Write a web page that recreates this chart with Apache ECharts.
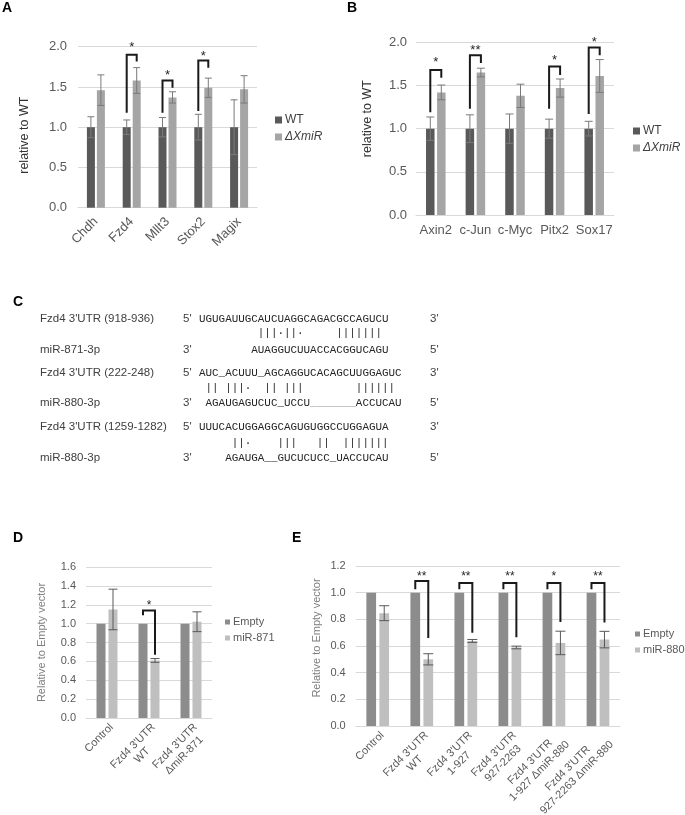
<!DOCTYPE html>
<html><head><meta charset="utf-8">
<script src="https://cdn.jsdelivr.net/npm/echarts@6/dist/echarts.min.js"></script>
<style>html,body{margin:0;padding:0;background:#fff}#c{width:685px;height:815px}</style>
</head><body><div id="c"></div>
<script>
// ---------- Panel A ----------
const catsA = ['Chdh', 'Fzd4', 'Mllt3', 'Stox2', 'Magix'];
const wtA = [1, 1, 1, 1, 1];
const wtErrA = [0.13, 0.09, 0.12, 0.16, 0.34];
const xmA = [1.46, 1.58, 1.37, 1.49, 1.47];
const xmErrA = [0.19, 0.16, 0.07, 0.12, 0.17];
// significance: [category index, left foot, top, right foot, star level]
const sigA = [[1, 1.18, 1.90, 1.815, 2.03], [2, 1.18, 1.58, 1.49, 1.68], [3, 1.20, 1.83, 1.74, 1.92]];
const starsA = ['*', '*', '*'];

// ---------- Panel B ----------
const catsB = ['Axin2', 'c-Jun', 'c-Myc', 'Pitx2', 'Sox17'];
const wtB = [1, 1, 1, 1, 1];
const wtErrB = [0.135, 0.16, 0.17, 0.11, 0.085];
const xmB = [1.42, 1.65, 1.38, 1.47, 1.61];
const xmErrB = [0.085, 0.05, 0.135, 0.105, 0.19];
const sigB = [[0, 1.19, 1.68, 1.59, 1.80], [1, 1.23, 1.85, 1.76, 1.94], [3, 1.23, 1.72, 1.62, 1.83], [4, 1.17, 1.94, 1.85, 2.04]];
const starsB = ['*', '**', '*', '*'];

// ---------- Panel D ----------
const catsD = ['Control', "Fzd4 3'UTR\nWT", "Fzd4 3'UTR\nΔmiR-871"];
const emptyD = [1, 1, 1];
const mirD = [1.15, 0.61, 1.02];
const mirErrD = [0.215, 0.02, 0.105];
const sigD = [[1, 1.09, 1.14, 0.67, 1.22]];
const starsD = ['*'];

// ---------- Panel E ----------
const catsE = ['Control', "Fzd4 3'UTR\nWT", "Fzd4 3'UTR\n1-927", "Fzd4 3'UTR\n927-2263", "Fzd4 3'UTR\n1-927 ΔmiR-880", "Fzd4 3'UTR\n927-2263 ΔmiR-880"];
const emptyE = [1, 1, 1, 1, 1, 1];
const mirE = [0.846, 0.50, 0.638, 0.589, 0.623, 0.648];
const mirErrE = [0.056, 0.042, 0.011, 0.01, 0.088, 0.062];
const sigE = [[1, 1.025, 1.087, 0.66, 1.145], [2, 1.025, 1.072, 0.70, 1.145], [3, 1.025, 1.072, 0.665, 1.145], [4, 1.025, 1.072, 0.78, 1.145], [5, 1.025, 1.072, 0.776, 1.145]];
const starsE = ['**', '**', '**', '*', '**'];

// axis ranges / tick steps
const yMaxA = 2, yStepA = 0.5;
const yMaxB = 2, yStepB = 0.5;
const yMaxD = 1.6, yStepD = 0.2;
const yMaxE = 1.2, yStepE = 0.2;

// ---------- Panel C (sequence alignments) ----------
const seqLabels = ["Fzd4 3'UTR (918-936)", 'miR-871-3p', "Fzd4 3'UTR (222-248)", 'miR-880-3p', "Fzd4 3'UTR (1259-1282)", 'miR-880-3p'];
const seqEndsL = ["5'", "3'", "5'", "3'", "5'", "3'"];
const seqEndsR = ["3'", "5'", "3'", "5'", "3'", "5'"];
const seqs = [
  'UGUGAUUGCAUCUAGGCAGACGCCAGUCU',
  '        AUAGGUCUUACCACGGUCAGU',
  'AUC_ACUUU_AGCAGGUCACAGCUUGGAGUC',
  ' AGAUGAGUCUC_UCCU       ACCUCAU',
  'UUUCACUGGAGGCAGUGUGGCCUGGAGUA',
  '    AGAUGA__GUCUCUCC_UACCUCAU'
];
const pairMarks = [
  '         |||·||·     |||||||',
  ' || |||·  || |||        ||||||',
  '     ||·    |||   ||  |||||||'
];
const gapMark = '                 _______';

const FONT = '"Liberation Sans", Arial, sans-serif';
const MONO = '"Liberation Mono", "DejaVu Sans Mono", monospace';

function yAxisOf(gi, max, step, name, gap, pad, fs, nfs, nameColor, margin) {
  return {
    type: 'value', gridIndex: gi, min: 0, max: max, interval: step,
    axisLabel: { formatter: v => v.toFixed(1), color: '#595959', fontSize: fs, fontFamily: FONT, margin: margin },
    splitLine: { lineStyle: { color: '#d9d9d9', width: 1 } },
    axisLine: { show: false }, axisTick: { show: false },
    name: name, nameLocation: 'middle', nameGap: gap, nameRotate: 90,
    nameTextStyle: { color: nameColor, fontSize: nfs, fontFamily: FONT, padding: pad }
  };
}
function xAxisOf(gi, cats, rotate, fs, margin, multi) {
  const lab = { interval: 0, rotate: rotate, color: '#595959', fontSize: fs, fontFamily: FONT, margin: margin };
  if (multi) {
    lab.verticalAlign = 'top';
    lab.formatter = v => v.split('\n').map(s => '{c|' + s + '}').join('\n');
    lab.rich = { c: { align: 'center', fontSize: fs, fontFamily: FONT, color: '#595959', lineHeight: 13 } };
  }
  return {
    type: 'category', gridIndex: gi, data: cats,
    axisLine: { lineStyle: { color: '#d9d9d9', width: 1 } }, axisTick: { show: false },
    axisLabel: lab
  };
}
function barOf(gi, name, data, w, gap, color) {
  return { type: 'bar', name: name, xAxisIndex: gi, yAxisIndex: gi, data: data, barWidth: w, barGap: gap, itemStyle: { color: color }, z: 2 };
}
function errOf(gi, vals, errs, off, cap, color) {
  return {
    type: 'custom', name: 'err' + gi + off, xAxisIndex: gi, yAxisIndex: gi, silent: true, z: 5,
    data: vals.map((v, i) => [i, v, errs[i]]),
    renderItem: function (p, api) {
      const i = api.value(0), v = api.value(1), e = api.value(2);
      const hi = api.coord([i, v + e]), lo = api.coord([i, v - e]);
      const x = hi[0] + off;
      const st = { stroke: color, lineWidth: 1 };
      return { type: 'group', children: [
        { type: 'line', shape: { x1: x, y1: hi[1], x2: x, y2: lo[1] }, style: st },
        { type: 'line', shape: { x1: x - cap / 2, y1: hi[1], x2: x + cap / 2, y2: hi[1] }, style: st },
        { type: 'line', shape: { x1: x - cap / 2, y1: lo[1], x2: x + cap / 2, y2: lo[1] }, style: st }
      ] };
    }
  };
}
function sigOf(gi, sig, stars, off, fs) {
  return {
    type: 'custom', name: 'sig' + gi, xAxisIndex: gi, yAxisIndex: gi, silent: true, z: 6,
    data: sig,
    renderItem: function (p, api) {
      const c = api.value(0);
      const pL = api.coord([c, api.value(1)]), pT = api.coord([c, api.value(2)]);
      const pR = api.coord([c, api.value(3)]), pS = api.coord([c, api.value(4)]);
      const xl = pL[0] - off, xr = pL[0] + off;
      return { type: 'group', children: [
        { type: 'polyline', shape: { points: [[xl, pL[1]], [xl, pT[1]], [xr, pT[1]], [xr, pR[1]]] },
          style: { stroke: '#1a1a1a', lineWidth: 2, fill: 'none' } },
        { type: 'text', style: { text: stars[p.dataIndex], x: (xl + xr) / 2, y: pS[1] + fs * 0.25,
          align: 'center', verticalAlign: 'middle', fontSize: fs, fontFamily: FONT, fill: '#262626' } }
      ] };
    }
  };
}
function legendOf(names, left, top, iw, fs, lh, gap, color) {
  return {
    data: names, orient: 'vertical', left: left, top: top, icon: 'rect',
    itemWidth: iw, itemHeight: iw, itemGap: gap, selectedMode: false, padding: 0,
    formatter: n => n === 'ΔXmiR' ? '{it|' + n + '}' : n,
    textStyle: { color: color, fontSize: fs, fontFamily: FONT, lineHeight: lh, padding: [0, 0, 0, -2],
      rich: { it: { fontStyle: 'italic', fontSize: fs, fontFamily: FONT, color: color } } }
  };
}

const graphics = [];
function txt(s, x, y, opts) {
  graphics.push({ type: 'text', x: x, y: y, silent: true,
    style: Object.assign({ text: s, fontSize: 11.5, fontFamily: FONT, fill: '#333', verticalAlign: 'middle' }, opts || {}) });
}
[['A', 2, 8], ['B', 347, 8], ['C', 13, 302], ['D', 13, 538], ['E', 292, 538]].forEach(l =>
  txt(l[0], l[1], l[2], { fontSize: 14, fontWeight: 'bold', fill: '#000' }));
const rowY = [319, 350, 373, 403, 427, 458];
const markY = [333, 388, 443];
rowY.forEach((y, i) => {
  txt(seqLabels[i], 40, y, { fill: '#404040' });
  txt(seqEndsL[i], 183, y, { fill: '#404040' });
  txt(seqEndsR[i], 430, y, { fill: '#404040' });
  txt(seqs[i], 199, y, { fontFamily: MONO, fontSize: 10.9, fill: '#262626' });
});
markY.forEach((y, i) => txt(pairMarks[i], 199, y, { fontFamily: MONO, fontSize: 10.9, fill: '#262626' }));
txt(gapMark, 199, rowY[3], { fontFamily: MONO, fontSize: 10.9, fill: '#9a9a9a' });

const option = {
  animation: false,
  backgroundColor: '#ffffff',
  textStyle: { fontFamily: FONT },
  grid: [
    { left: 78, top: 46.7, width: 179, height: 161, containLabel: false, outerBoundsMode: 'none' },
    { left: 416, top: 42.3, width: 198, height: 172.7, containLabel: false, outerBoundsMode: 'none' },
    { left: 86, top: 567, width: 126, height: 151, containLabel: false, outerBoundsMode: 'none' },
    { left: 355.7, top: 566, width: 264.3, height: 160, containLabel: false, outerBoundsMode: 'none' }
  ],
  xAxis: [
    xAxisOf(0, catsA, 45, 13, 12, false),
    xAxisOf(1, catsB, 0, 13, 9, false),
    xAxisOf(2, catsD, 45, 11, 3, true),
    xAxisOf(3, catsE, 45, 11, 3, true)
  ],
  yAxis: [
    yAxisOf(0, yMaxA, yStepA, 'relative to WT', 47, [0, 16, 0, 0], 13, 12.5, '#333', 11),
    yAxisOf(1, yMaxB, yStepB, 'relative to WT', 42, [0, 0, 0, 20], 13, 12.5, '#333', 9),
    yAxisOf(2, yMaxD, yStepD, 'Relative to Empty vector', 39, [0, 0, 0, 0], 11, 11, '#7f7f7f', 10),
    yAxisOf(3, yMaxE, yStepE, 'Relative to Empty vector', 33, [0, 0, 0, 16], 11, 11, '#7f7f7f', 10)
  ],
  legend: [
    legendOf(['WT', 'ΔXmiR'], 275, 113, 7, 12, 14, 3, '#404040'),
    legendOf(['WT', 'ΔXmiR'], 633, 124, 7, 12, 14, 3, '#404040'),
    legendOf(['Empty', 'miR-871'], 225, 615.5, 5, 11, 13, 3, '#595959'),
    legendOf(['Empty', 'miR-880'], 635, 627.5, 5, 11, 13, 3, '#595959')
  ],
  series: [
    barOf(0, 'WT', wtA, 8, '25%', '#595959'),
    barOf(0, 'ΔXmiR', xmA, 8, '25%', '#a5a5a5'),
    errOf(0, wtA, wtErrA, -5, 7, '#7a7a7a'),
    errOf(0, xmA, xmErrA, 5, 7, '#7a7a7a'),
    sigOf(0, sigA, starsA, 5, 13),

    barOf(1, 'WT', wtB, 8.5, '30%', '#595959'),
    barOf(1, 'ΔXmiR', xmB, 8.5, '30%', '#a5a5a5'),
    errOf(1, wtB, wtErrB, -5.5, 8, '#7a7a7a'),
    errOf(1, xmB, xmErrB, 5.5, 8, '#7a7a7a'),
    sigOf(1, sigB, starsB, 5.5, 13),

    barOf(2, 'Empty', emptyD, 9, '33%', '#8c8c8c'),
    barOf(2, 'miR-871', mirD, 9, '33%', '#bfbfbf'),
    errOf(2, mirD, mirErrD, 6, 9, '#595959'),
    sigOf(2, sigD, starsD, 6, 12),

    barOf(3, 'Empty', emptyE, 9.7, '34%', '#8c8c8c'),
    barOf(3, 'miR-880', mirE, 9.7, '34%', '#bfbfbf'),
    errOf(3, mirE, mirErrE, 6.5, 10, '#595959'),
    sigOf(3, sigE, starsE, 6.5, 12)
  ],
  graphic: graphics
};
const chart = echarts.init(document.getElementById('c'), null, { renderer: 'canvas' });
chart.setOption(option);
</script>
</body></html>
